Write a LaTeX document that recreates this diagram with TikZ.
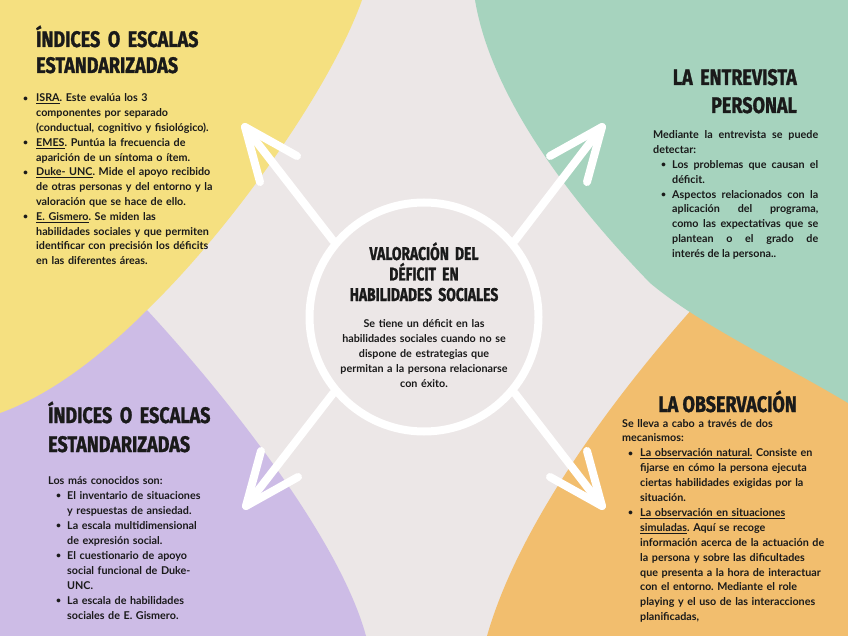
\documentclass[tikz,border=0pt]{standalone}
\usepackage{fontspec}
\usepackage{graphicx}
\setmainfont{Lato}
\newfontfamily\titlefont{Fira Sans}[FakeStretch=0.8,FakeBold=1.2]
\newfontfamily\titlefontc{Fira Sans}[FakeStretch=0.75,FakeBold=1.2]
\definecolor{bgc}{HTML}{ECE7E7}
\definecolor{yel}{HTML}{F5E080}
\definecolor{grn}{HTML}{A6D3BE}
\definecolor{pur}{HTML}{CDBCE6}
\definecolor{ora}{HTML}{F2BE6E}
\definecolor{ink}{HTML}{1A1A1A}
\newcommand{\litem}[3]{\hangindent=#2\hangafter=1\noindent\makebox[#2][l]{\hspace{#1}\raisebox{0.6pt}{\scalebox{0.8}{\textbullet}}}#3\par}
\frenchspacing
\begin{document}
\begin{tikzpicture}[x=1pt,y=-1pt,
  ttl/.style={font={\titlefont\bfseries\fontsize{22.5pt}{#1}\selectfont}, text=ink, inner sep=0pt},
  ttl/.default=27pt,
  ttlc/.style={font={\titlefontc\bfseries\fontsize{18.5pt}{20.5pt}\selectfont}, text=ink, inner sep=0pt},
  body/.style={font={\bfseries\fontsize{10.75pt}{#1}\selectfont\frenchspacing}, text=ink, inner sep=0pt},
  body/.default=14.8pt,
  arr/.style={draw=white, line width=8pt, line cap=round, line join=round}]
\useasboundingbox (0,0) rectangle (848,636);
% background and blobs
\fill[bgc] (0,0) rectangle (848,636);
\fill[pur] (0,636) -- (0,380) -- (147,310) .. controls (230,400) and (340,540) .. (366,636) -- cycle;
\fill[yel] (0,0) -- (362,0) .. controls (330,90) and (230,230) .. (147,310) .. controls (100,357) and (50,395) .. (0,413) -- cycle;
\fill[ora] (487,636) .. controls (520,520) and (620,390) .. (693,308) -- (720,290) -- (848,300) -- (848,636) -- cycle;
\fill[grn] (475,0) .. controls (490,90) and (560,190) .. (650,283) .. controls (700,325) and (785,365) .. (848,403) -- (848,0) -- cycle;
% central circle
\node[draw=white, line width=8pt, circle, minimum size=229pt, inner sep=0pt] (c) at (424,317) {};
% arrows
\coordinate (tl) at (245,127);
\coordinate (tr) at (602,127);
\coordinate (bl) at (246,506);
\coordinate (br) at (602,506);
\draw[arr] (c.140) -- (tl);
\draw[arr] (tl) ++(52,29) -- (tl) -- ++(15,55);
\draw[arr] (c.40) -- (tr);
\draw[arr] (tr) ++(-52,29) -- (tr) -- ++(-15,55);
\draw[arr] (c.220) -- (bl);
\draw[arr] (bl) ++(15,-55) -- (bl) -- ++(52,-29);
\draw[arr] (c.320) -- (br);
\draw[arr] (br) ++(-52,-29) -- (br) -- ++(-15,-55);
% titles
\node[ttl=26pt, anchor=base west, align=left, text width=230pt] (t1) at (36,47) {ÍNDICES O ESCALAS\\ESTANDARIZADAS};
\node[ttl=28pt, anchor=base east, align=right, text width=200pt] (t2) at (797,85) {LA ENTREVISTA\\PERSONAL};
\node[ttl, anchor=base east] (t3) at (797,412) {LA OBSERVACIÓN};
\node[ttl=29pt, anchor=base west, align=left, text width=230pt] (t4) at (48,423) {ÍNDICES O ESCALAS\\ESTANDARIZADAS};
\node[ttlc, anchor=base, align=center, text width=220pt] (t0) at (424,260) {VALORACIÓN DEL\\DÉFICIT EN\\HABILIDADES SOCIALES};
% bodies
\node[body, anchor=base west, align=left, text width=215pt] (b1) at (23,102) {%
\litem{0pt}{13pt}{\underline{ISRA}. Este evalúa los 3\newline componentes por separado\newline (conductual, cognitivo y fisiológico).}%
\litem{0pt}{13pt}{\underline{EMES}. Puntúa la frecuencia de\newline aparición de un síntoma o ítem.}%
\litem{0pt}{13pt}{\underline{Duke- UNC}. Mide el apoyo recibido\newline de otras personas y del entorno y la\newline valoración que se hace de ello.}%
\litem{0pt}{13pt}{\underline{E. Gismero}. Se miden las\newline habilidades sociales y que permiten\newline identificar con precisión los déficits\newline en las diferentes áreas.}};
\node[body=15pt, anchor=base, align=center, text width=220pt] (b0) at (424,327) {Se tiene un déficit en las\\habilidades sociales cuando no se\\dispone de estrategias que\\permitan a la persona relacionarse\\con éxito.};
\node[body, anchor=base west, align=justify, text width=165pt] (b2) at (653,139) {%
\noindent Mediante la entrevista se puede\linebreak detectar:\par
\litem{8pt}{19pt}{Los problemas que causan el\linebreak déficit.}%
\litem{8pt}{19pt}{Aspectos relacionados con la\linebreak aplicación del programa,\linebreak como las expectativas que se\linebreak plantean o el grado de\linebreak interés de la persona..}};
\node[body=14.9pt, anchor=base west, align=left, text width=215pt] (b3) at (622,427) {%
\noindent Se lleva a cabo a través de dos\newline mecanismos:\par
\litem{6pt}{18pt}{\underline{La observación natural.} Consiste en\newline fijarse en cómo la persona ejecuta\newline ciertas habilidades exigidas por la\newline situación.}%
\litem{6pt}{18pt}{\underline{La observación en situaciones}\newline \underline{simuladas}. Aquí se recoge\newline información acerca de la actuación de\newline la persona y sobre las dificultades\newline que presenta a la hora de interactuar\newline con el entorno. Mediante el role\newline playing y el uso de las interacciones\newline planificadas,}};
\node[body=15pt, anchor=base west, align=left, text width=190pt] (b4) at (48,484) {%
\noindent Los más conocidos son:\par
\litem{8pt}{19pt}{El inventario de situaciones\newline y respuestas de ansiedad.}%
\litem{8pt}{19pt}{La escala multidimensional\newline de expresión social.}%
\litem{8pt}{19pt}{El cuestionario de apoyo\newline social funcional de Duke-\newline UNC.}%
\litem{8pt}{19pt}{La escala de habilidades\newline sociales de E. Gismero.}};
\end{tikzpicture}
\end{document}
